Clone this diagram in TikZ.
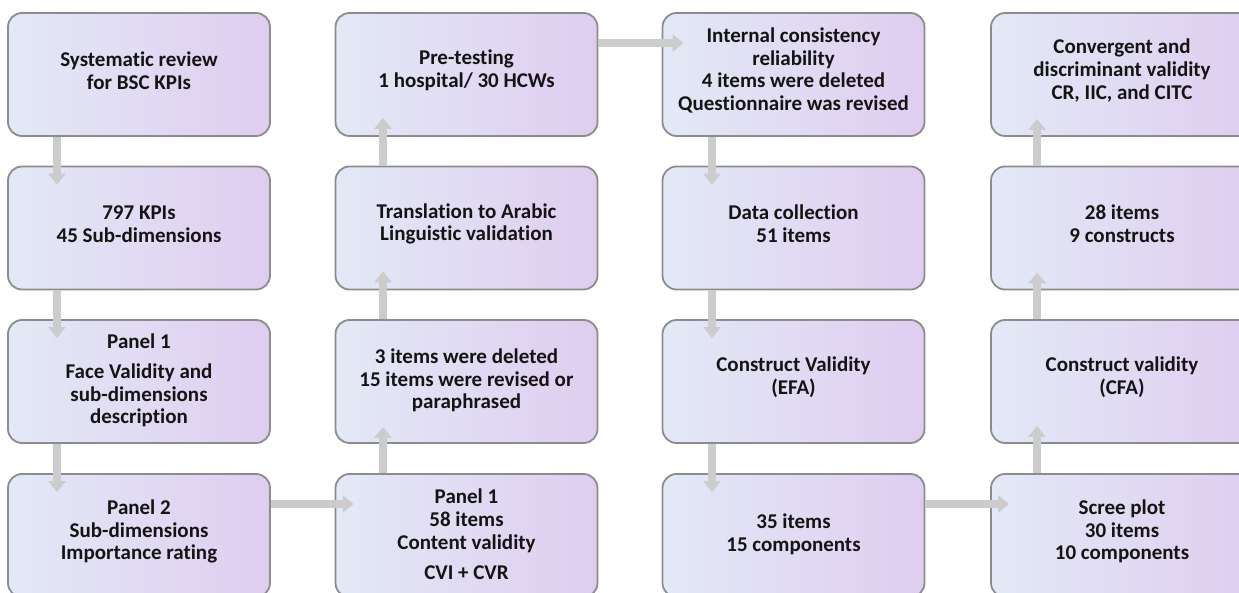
\documentclass[tikz,border=0pt]{standalone}
\usepackage{fontspec}
\setmainfont{Carlito}[Ligatures=NoCommon]
\usetikzlibrary{arrows.meta,calc}
\definecolor{boxL}{RGB}{227,233,246}
\definecolor{boxR}{RGB}{223,205,240}
\definecolor{boxB}{RGB}{140,140,140}
\definecolor{arrC}{RGB}{204,204,204}
\definecolor{txtC}{RGB}{20,20,20}
\tikzset{
  stagebox/.style={draw=boxB, line width=1.8pt, rounded corners=14pt,
    left color=boxL, right color=boxR, minimum width=262pt, minimum height=123pt,
    inner sep=0pt},
  lbl/.style={align=center, text=txtC, font=\fontsize{21}{22.6}\selectfont\bfseries, inner sep=0pt},
  flow/.style={draw=arrC, line width=8pt, -{Triangle[width=17pt,length=11pt]}, shorten <=0pt}
}
\begin{document}
\begin{tikzpicture}[x=1pt,y=-1pt]
\useasboundingbox (0,0) rectangle (1239,593);
\clip (0,0) rectangle (1239,593);
% boxes
\node[stagebox] (b11) at (139,74.5) {};
\node[stagebox] (b21) at (139,228) {};
\node[stagebox] (b31) at (139,381.5) {};
\node[stagebox] (b41) at (139,535.5) {};
\node[stagebox] (b12) at (466.5,74.5) {};
\node[stagebox] (b22) at (466.5,228) {};
\node[stagebox] (b32) at (466.5,381.5) {};
\node[stagebox] (b42) at (466.5,535.5) {};
\node[stagebox] (b13) at (793.5,74.5) {};
\node[stagebox] (b23) at (793.5,228) {};
\node[stagebox] (b33) at (793.5,381.5) {};
\node[stagebox] (b43) at (793.5,535.5) {};
\node[stagebox] (b14) at (1122,74.5) {};
\node[stagebox] (b24) at (1122,228) {};
\node[stagebox] (b34) at (1122,381.5) {};
\node[stagebox] (b44) at (1122,535.5) {};
% labels
\node[lbl] (t11) at ([yshift=4pt]b11.center) {Systematic review\\for BSC KPIs};
\node[lbl] (t21) at ([yshift=4pt]b21.center) {797 KPIs\\45 Sub-dimensions};
\node[lbl] (t31) at ([yshift=1pt]b31.center) {Panel 1\\[7pt]Face Validity and\\sub-dimensions\\description};
\node[lbl] (t41) at ([yshift=4pt]b41.center) {Panel 2\\Sub-dimensions\\Importance rating};
\node[lbl] (t12) at ([yshift=4pt]b12.center) {Pre-testing\\1 hospital/ 30 HCWs};
\node[lbl] (t22) at ([yshift=4pt]b22.center) {Translation to Arabic\\Linguistic validation};
\node[lbl] (t32) at ([yshift=1pt]b32.center) {3 items were deleted\\15 items were revised or\\paraphrased};
\node[lbl] (t42) at ([yshift=1pt]b42.center) {Panel 1\\58 items\\Content validity\\[8pt]CVI + CVR};
\node[lbl] (t13) at ([yshift=4pt]b13.center) {Internal consistency\\reliability\\4 items were deleted\\Questionnaire was revised};
\node[lbl] (t23) at ([yshift=4pt]b23.center) {Data collection\\51 items};
\node[lbl] (t33) at ([yshift=4pt]b33.center) {Construct Validity\\(EFA)};
\node[lbl] (t43) at ([yshift=1pt]b43.center) {35 items\\15 components};
\node[lbl] (t14) at ([yshift=4pt]b14.center) {Convergent and\\discriminant validity\\CR, IIC, and CITC};
\node[lbl] (t24) at ([yshift=4pt]b24.center) {28 items\\9 constructs};
\node[lbl] (t34) at ([yshift=4pt]b34.center) {Construct validity\\(CFA)};
\node[lbl] (t44) at ([yshift=4pt]b44.center) {Scree plot\\30 items\\10 components};
% arrow columns / rows
\coordinate (c1) at (57,0);
\coordinate (c2) at (383,0);
\coordinate (c3) at (712,0);
\coordinate (c4) at (1037,0);
\coordinate (r1) at (0,43);
\coordinate (r4) at (0,504);
% arrows
\draw[flow] (b11.south -| c1) -- ([yshift=-19pt]b21.north -| c1);
\draw[flow] (b21.south -| c1) -- ([yshift=-19pt]b31.north -| c1);
\draw[flow] (b31.south -| c1) -- ([yshift=-19pt]b41.north -| c1);
\draw[flow] (b41.east |- r4) -- ([xshift=19pt]b42.west |- r4);
\draw[flow] (b42.north -| c2) -- ([yshift=17pt]b32.south -| c2);
\draw[flow] (b32.north -| c2) -- ([yshift=19pt]b22.south -| c2);
\draw[flow] (b22.north -| c2) -- ([yshift=19pt]b12.south -| c2);
\draw[flow] (b12.east |- r1) -- ([xshift=22pt]b13.west |- r1);
\draw[flow] (b13.south -| c3) -- ([yshift=-19pt]b23.north -| c3);
\draw[flow] (b23.south -| c3) -- ([yshift=-19pt]b33.north -| c3);
\draw[flow] (b33.south -| c3) -- ([yshift=-19pt]b43.north -| c3);
\draw[flow] (b43.east |- r4) -- ([xshift=19pt]b44.west |- r4);
\draw[flow] (b44.north -| c4) -- ([yshift=18pt]b34.south -| c4);
\draw[flow] (b34.north -| c4) -- ([yshift=18pt]b24.south -| c4);
\draw[flow] (b24.north -| c4) -- ([yshift=18pt]b14.south -| c4);
\end{tikzpicture}
\end{document}
